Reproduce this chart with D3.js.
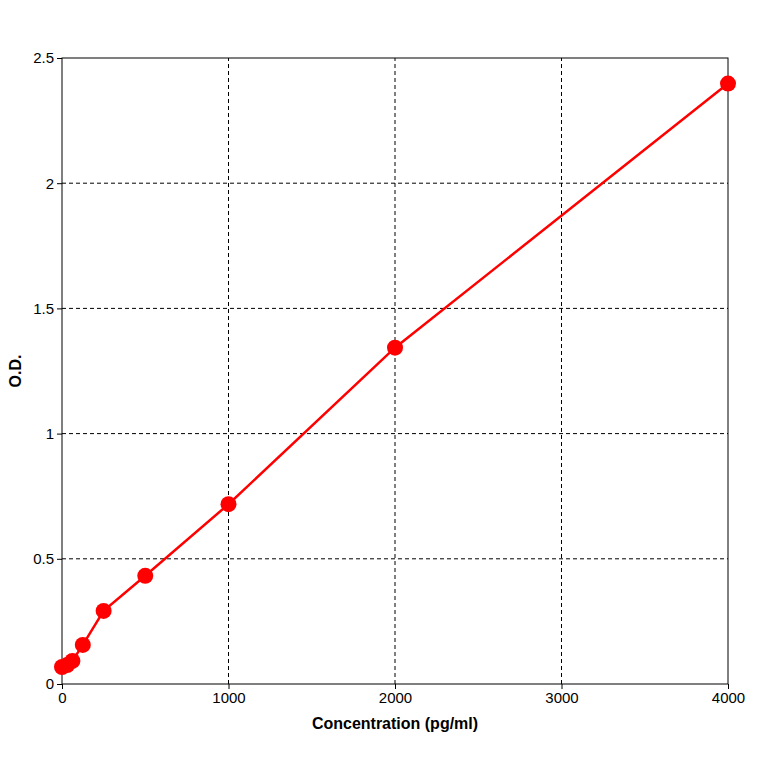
<!DOCTYPE html>
<html><head><meta charset="utf-8">
<script src="https://cdn.jsdelivr.net/npm/d3@7"></script>
<style>body{margin:0;background:#fff}svg{display:block}</style>
</head><body>
<script>
// Standard curve data
const conc = [0, 31.25, 62.5, 125, 250, 500, 1000, 2000, 4000];
const od = [0.068, 0.076, 0.092, 0.156, 0.292, 0.432, 0.718, 1.343, 2.398];
const xTicks = [0, 1000, 2000, 3000, 4000];
const yTicks = [0, 0.5, 1, 1.5, 2, 2.5];

const W = 764, H = 764;
const margin = {left: 62, top: 58, right: 36, bottom: 80};
const svg = d3.select("body").append("svg").attr("width", W).attr("height", H);

const x = d3.scaleLinear().domain([0, 4000]).range([margin.left, W - margin.right]);
const y = d3.scaleLinear().domain([0, 2.5]).range([H - margin.bottom, margin.top]);

// grid
svg.append("g").selectAll("line").data(xTicks.slice(1, -1)).join("line")
    .attr("x1", d => x(d)).attr("x2", d => x(d))
    .attr("y1", y(0)).attr("y2", y(2.5))
    .attr("stroke", "#000").attr("stroke-dasharray", "4,3");
svg.append("g").selectAll("line").data(yTicks.slice(1, -1)).join("line")
    .attr("x1", x(0)).attr("x2", x(4000))
    .attr("y1", d => y(d)).attr("y2", d => y(d))
    .attr("stroke", "#000").attr("stroke-dasharray", "4,3");

svg.append("rect")
    .attr("x", x(0)).attr("y", y(2.5))
    .attr("width", x(4000) - x(0)).attr("height", y(0) - y(2.5))
    .attr("fill", "none").attr("stroke", "#000");

// axes
const xa = svg.append("g").attr("transform", `translate(0,${y(0)})`)
    .call(d3.axisBottom(x).tickValues(xTicks).tickSize(5).tickFormat(d3.format("d")));
const ya = svg.append("g").attr("transform", `translate(${x(0)},0)`)
    .call(d3.axisLeft(y).tickValues(yTicks).tickSize(5).tickFormat(d => d));
[xa, ya].forEach(a => {
    a.select(".domain").remove();
    a.selectAll("text").attr("font-family", "Liberation Sans, Arial, sans-serif")
        .attr("font-size", 15).attr("fill", "#000");
});

// curve
const pts = conc.map((c, i) => [c, od[i]]);
svg.append("path").datum(pts)
    .attr("fill", "none").attr("stroke", "#ff0000").attr("stroke-width", 2.5)
    .attr("d", d3.line().x(d => x(d[0])).y(d => y(d[1])));
svg.append("g").selectAll("circle").data(pts).join("circle")
    .attr("cx", d => x(d[0])).attr("cy", d => y(d[1])).attr("r", 8)
    .attr("fill", "#ff0000");

// titles
svg.append("text").attr("x", (x(0) + x(4000)) / 2).attr("y", 729)
    .attr("text-anchor", "middle").attr("font-family", "Liberation Sans, Arial, sans-serif")
    .attr("font-size", 16).attr("font-weight", "bold").text("Concentration (pg/ml)");
svg.append("text").attr("transform", `translate(21,${(y(0) + y(2.5)) / 2}) rotate(-90)`)
    .attr("text-anchor", "middle").attr("font-family", "Liberation Sans, Arial, sans-serif")
    .attr("font-size", 16).attr("font-weight", "bold").text("O.D.");
</script>
</body></html>
